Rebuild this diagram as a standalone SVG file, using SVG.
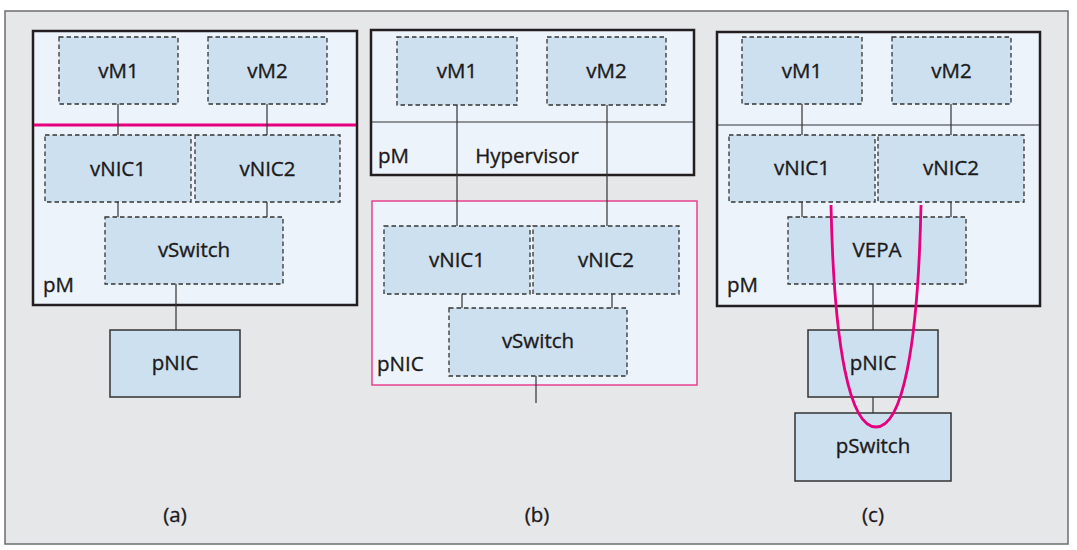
<svg xmlns="http://www.w3.org/2000/svg" width="1077" height="550" viewBox="0 0 1077 550">
<style>
text{font-family:"Open Sans","Noto Sans","Liberation Sans",sans-serif;fill:#1d1a1b;stroke:#1d1a1b;stroke-width:0.35;font-size:20.5px}
.c{text-anchor:middle}
.bg{fill:#e6e7e9;stroke:#6d6e71;stroke-width:1.5}
.pm{fill:#edf3fa;stroke:#231f20;stroke-width:2.5}
.pk{fill:#edf3fa;stroke:#e8418e;stroke-width:1.5}
.v{fill:#cce0ef;stroke:#333;stroke-width:1.3;stroke-dasharray:4.5 3}
.p{fill:#cce0ef;stroke:#333;stroke-width:1.5}
.ln{stroke:#333;stroke-width:1.2;fill:none}
.red{stroke:#e6007e;stroke-width:2.8;fill:none}
</style>
<rect class="bg" x="5" y="11" width="1063" height="533"/>

<!-- (a) -->
<g id="a-pM"><rect class="pm" x="33" y="31" width="324" height="274"/><text x="43" y="292">pM</text></g>
<g id="a-vM1"><rect class="v" x="59" y="37" width="119" height="67"/><text class="c" x="118.5" y="78">vM1</text></g>
<g id="a-vM2"><rect class="v" x="208" y="37" width="119" height="67"/><text class="c" x="267.5" y="78">vM2</text></g>
<g id="a-vNIC1"><rect class="v" x="45" y="135" width="146" height="67"/><text class="c" x="118" y="176">vNIC1</text></g>
<g id="a-vNIC2"><rect class="v" x="195" y="135" width="145" height="67"/><text class="c" x="267.5" y="176">vNIC2</text></g>
<g id="a-vSwitch"><rect class="v" x="105" y="217" width="178" height="67"/><text class="c" x="194" y="257">vSwitch</text></g>
<g id="a-pNIC"><rect class="p" x="110" y="330" width="130" height="67"/><text class="c" x="175" y="370">pNIC</text></g>
<text class="c" x="175" y="522">(a)</text>

<!-- (b) -->
<g id="b-pM"><rect class="pm" x="371" y="30" width="323" height="145"/><line class="ln" x1="372" y1="122" x2="693" y2="122"/><text x="378" y="163">pM</text><text class="c" x="527" y="163">Hypervisor</text></g>
<g id="b-vM1"><rect class="v" x="397" y="37" width="120" height="68"/><text class="c" x="457" y="78">vM1</text></g>
<g id="b-vM2"><rect class="v" x="547" y="37" width="119" height="68"/><text class="c" x="606.5" y="78">vM2</text></g>
<g id="b-pNIC"><rect class="pk" x="372" y="201" width="325" height="184"/><text x="377" y="371">pNIC</text></g>
<g id="b-vNIC1"><rect class="v" x="384" y="226" width="146" height="68"/><text class="c" x="457" y="267">vNIC1</text></g>
<g id="b-vNIC2"><rect class="v" x="533" y="226" width="146" height="68"/><text class="c" x="606" y="267">vNIC2</text></g>
<g id="b-vSwitch"><rect class="v" x="449" y="308" width="178" height="68"/><text class="c" x="538" y="348">vSwitch</text></g>
<text class="c" x="537" y="522">(b)</text>

<!-- (c) -->
<g id="c-pM"><rect class="pm" x="717" y="32" width="323" height="274"/><line class="ln" x1="718" y1="125" x2="1039" y2="125"/><text x="727" y="292">pM</text></g>
<g id="c-vM1"><rect class="v" x="742" y="37" width="120" height="67"/><text class="c" x="802" y="78">vM1</text></g>
<g id="c-vM2"><rect class="v" x="892" y="37" width="119" height="67"/><text class="c" x="951.5" y="78">vM2</text></g>
<g id="c-vNIC1"><rect class="v" x="729" y="135" width="146" height="67"/><text class="c" x="802" y="175">vNIC1</text></g>
<g id="c-vNIC2"><rect class="v" x="878" y="135" width="146" height="67"/><text class="c" x="951" y="175">vNIC2</text></g>
<g id="c-VEPA"><rect class="v" x="788" y="217" width="178" height="67"/><text class="c" x="877" y="257">VEPA</text></g>
<g id="c-pNIC"><rect class="p" x="808" y="330" width="130" height="67"/><text class="c" x="873" y="370">pNIC</text></g>
<g id="c-pSwitch"><rect class="p" x="795" y="413" width="156" height="68"/><text class="c" x="873" y="453">pSwitch</text></g>
<text class="c" x="873" y="522">(c)</text>

<g id="connectors">
<line class="red" x1="34" y1="125" x2="356" y2="125"/>
<path class="ln" d="M118,104V135M267,104V135M118,202V217M267,202V217M176,284V330"/>
<path class="ln" d="M457,105V226M607,105V226M462,294V308M612,294V308M536,376V403"/>
<path class="ln" d="M802,104V135M951,104V135M802,202V217M951,202V217M873,284V330M873,397V413"/>
<path class="red" d="M831,205C834,350 850,427 876,427C902,427 918,350 921,205"/>
</g>
</svg>
